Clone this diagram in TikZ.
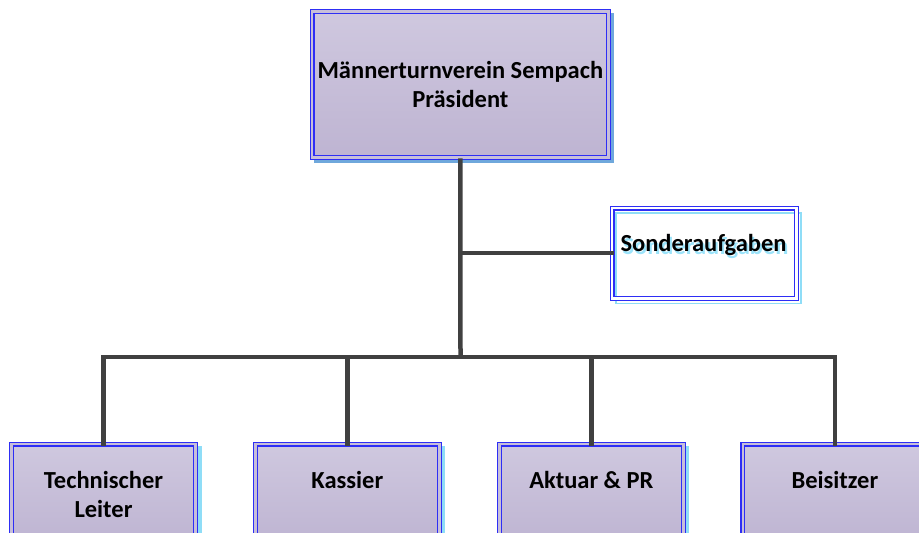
\documentclass[tikz,border=0pt]{standalone}
\usepackage{fontspec}
\setmainfont{Carlito}
\definecolor{boxblue}{HTML}{2E2EF5}
\definecolor{lavtop}{HTML}{CFC8DF}
\definecolor{lavbot}{HTML}{BEB4D2}
\definecolor{lavmid}{HTML}{C7BFD9}
\definecolor{shadowblue}{HTML}{6FA8DC}
\definecolor{shadowcyan}{HTML}{8FDDF7}
\definecolor{textshadow}{HTML}{9BE3FA}
\definecolor{linegray}{HTML}{404040}
\begin{document}
\begin{tikzpicture}[x=1pt,y=-1pt,
  lbl/.style={font=\bfseries\fontsize{24.5}{29}\selectfont},
  orgbox/.style={lbl, draw=boxblue, line width=1.1pt, double=lavmid, double distance=2.8pt,
    top color=lavtop, bottom color=lavbot, align=center, inner sep=0pt},
  whitebox/.style={lbl, draw=boxblue, line width=1.1pt, double=white, double distance=2.8pt,
    align=center, inner sep=0pt},
  conn/.style={draw=linegray, line width=4.5pt, line join=miter, line cap=rect}]
\useasboundingbox (0,0) rectangle (919,533);
\clip (0,0) rectangle (919,533);
% shadows
\fill[shadowblue] (314,13) rectangle (614,163);
\fill[shadowcyan] (17,446) rectangle (202,560);
\fill[shadowcyan] (261,446) rectangle (445,560);
\fill[shadowcyan] (505,446) rectangle (689,560);
\fill[shadowcyan] (748,446) rectangle (933,560);
\draw[shadowcyan, line width=1.1pt] (616,213) rectangle (801,303.5);
% boxes
\node[orgbox, minimum width=296.7pt, minimum height=146.4pt] (top) at (460.4,84.5)
  {Männerturnverein Sempach\\Präsident};
\node[whitebox, minimum width=184.3pt, minimum height=90.3pt] (sonder) at (704.2,253.2) {};
\node[lbl] (sondertext) at (703.5,246.5)
  {\rlap{\hspace{2pt}\raisebox{-3pt}{\textcolor{textshadow}{Sonderaufgaben}}}Sonderaufgaben};
\node[orgbox, minimum width=184.4pt, minimum height=100pt] (b1) at (103.5,494) {Technischer\\Leiter};
\node[orgbox, minimum width=184pt, minimum height=100pt] (b2) at (347.3,494) {Kassier\\\mbox{}};
\node[orgbox, minimum width=184pt, minimum height=100pt] (b3) at (591.3,494) {Aktuar \& PR\\\mbox{}};
\node[orgbox, minimum width=184pt, minimum height=100pt] (b4) at (834.9,494) {Beisitzer\\\mbox{}};
% connectors
\coordinate (bar) at (460.5,357);
\draw[conn, line cap=butt] (top.south) -- (bar);
\draw[conn] (top.south |- sonder.west) -- (sonder.west);
\draw[conn] (b1.north) -- (b1.north |- bar) -- (b4.north |- bar) -- (b4.north);
\draw[conn] (b2.north) -- (b2.north |- bar);
\draw[conn] (b3.north) -- (b3.north |- bar);
\end{tikzpicture}
\end{document}
